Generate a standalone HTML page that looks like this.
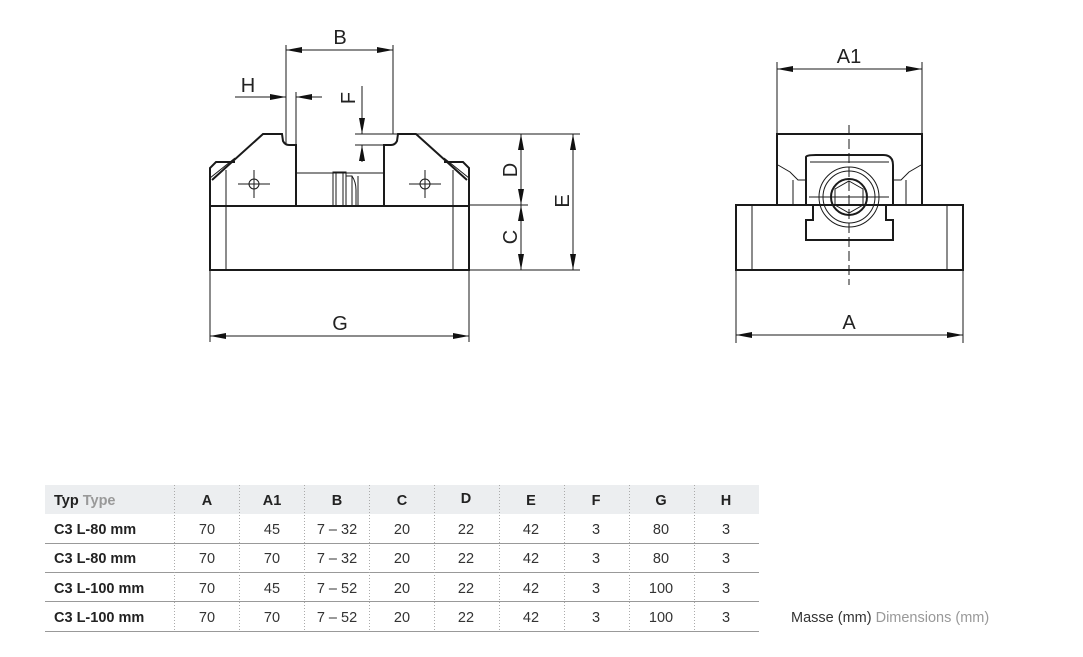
<!DOCTYPE html>
<html><head><meta charset="utf-8"><style>
html,body{margin:0;padding:0;background:#fff;}
body{width:1083px;height:657px;overflow:hidden;}
svg{display:block;}
.l{stroke:#1a1a1a;stroke-width:1;fill:none;}
.t{stroke:#1a1a1a;stroke-width:2;fill:none;}
.d{font-family:"Liberation Sans",sans-serif;font-size:20px;fill:#222;font-weight:300;}
.h{font-family:"Liberation Sans",sans-serif;font-size:14.5px;font-weight:bold;fill:#222;}
.c{font-family:"Liberation Sans",sans-serif;font-size:14.5px;fill:#333;}
</style></head><body>
<svg width="1083" height="657" viewBox="0 0 1083 657">
<defs>
<marker id="a" markerWidth="16" markerHeight="8" refX="16" refY="4" orient="auto" markerUnits="userSpaceOnUse"><path d="M0,1 L16,4 L0,7 Z" fill="#111"/></marker>
</defs>
<g>
<rect x="210" y="206" width="259" height="64" class="t"/>
<line x1="226" y1="206" x2="226" y2="270" class="l"/>
<line x1="453" y1="206" x2="453" y2="270" class="l"/>
<path d="M210,206 L210,168 L216,162 L235,162" class="t"/>
<path d="M469,206 L469,168 L463,162 L444,162" class="t"/>
<line x1="226" y1="206" x2="226" y2="170" class="l"/>
<line x1="453" y1="206" x2="453" y2="170" class="l"/>
<line x1="210" y1="178" x2="235" y2="158" class="l"/>
<line x1="469" y1="178" x2="444" y2="158" class="l"/>
<path d="M212,180 L263,134 L282,134 L283,141 Q285,145 289,145 L296,145 L296,206" class="t"/>
<path d="M467,180 L416,134 L398,134 L397,141 Q395,145 391,145 L384,145 L384,206" class="t"/>
<line x1="296" y1="173" x2="384" y2="173" class="l"/>
<rect x="333" y="172" width="13" height="34" class="l"/>
<line x1="336" y1="172" x2="336" y2="206" class="l"/>
<line x1="343" y1="172" x2="343" y2="206" class="l"/>
<path d="M346,176 L352,176 Q356,182 356,190 L356,206 M352,176 L352,206 M358,176 L358,206" class="l"/>
<circle cx="254" cy="184" r="5" class="l"/>
<line x1="238" y1="184" x2="270" y2="184" class="l"/><line x1="254" y1="170" x2="254" y2="198" class="l"/>
<circle cx="425" cy="184" r="5" class="l"/>
<line x1="409" y1="184" x2="441" y2="184" class="l"/><line x1="425" y1="170" x2="425" y2="198" class="l"/>
<line x1="286" y1="45" x2="286" y2="145" class="l"/>
<line x1="393" y1="45" x2="393" y2="134" class="l"/>
<line x1="300" y1="50" x2="286" y2="50" class="l" marker-end="url(#a)"/>
<line x1="300" y1="50" x2="393" y2="50" class="l" marker-end="url(#a)"/>
<text x="340" y="44" class="d" text-anchor="middle">B</text>
<line x1="296" y1="92" x2="296" y2="145" class="l"/>
<line x1="235" y1="97" x2="286" y2="97" class="l" marker-end="url(#a)"/>
<line x1="322" y1="97" x2="296" y2="97" class="l" marker-end="url(#a)"/>
<text x="248" y="92" class="d" text-anchor="middle">H</text>
<line x1="362" y1="86" x2="362" y2="134" class="l" marker-end="url(#a)"/>
<line x1="362" y1="162" x2="362" y2="145" class="l" marker-end="url(#a)"/>
<line x1="355" y1="145" x2="392" y2="145" class="l"/>
<line x1="355" y1="134" x2="580" y2="134" class="l"/>
<text transform="translate(355,98) rotate(-90)" class="d" text-anchor="middle">F</text>
<line x1="469" y1="205" x2="528" y2="205" class="l"/>
<line x1="469" y1="270" x2="580" y2="270" class="l"/>
<line x1="521" y1="170" x2="521" y2="134" class="l" marker-end="url(#a)"/>
<line x1="521" y1="170" x2="521" y2="205" class="l" marker-end="url(#a)"/>
<line x1="521" y1="237" x2="521" y2="205" class="l" marker-end="url(#a)"/>
<line x1="521" y1="237" x2="521" y2="270" class="l" marker-end="url(#a)"/>
<line x1="573" y1="200" x2="573" y2="134" class="l" marker-end="url(#a)"/>
<line x1="573" y1="200" x2="573" y2="270" class="l" marker-end="url(#a)"/>
<text transform="translate(517,170) rotate(-90)" class="d" text-anchor="middle">D</text>
<text transform="translate(517,237) rotate(-90)" class="d" text-anchor="middle">C</text>
<text transform="translate(569,201) rotate(-90)" class="d" text-anchor="middle">E</text>
<line x1="210" y1="270" x2="210" y2="342" class="l"/>
<line x1="469" y1="270" x2="469" y2="342" class="l"/>
<line x1="340" y1="336" x2="210" y2="336" class="l" marker-end="url(#a)"/>
<line x1="340" y1="336" x2="469" y2="336" class="l" marker-end="url(#a)"/>
<text x="340" y="330" class="d" text-anchor="middle">G</text>
</g>
<g>
<rect x="736" y="205" width="227" height="65" class="t"/>
<line x1="752" y1="205" x2="752" y2="270" class="l"/>
<line x1="947" y1="205" x2="947" y2="270" class="l"/>
<path d="M777,205 L777,134 L922,134 L922,205" class="t"/>
<path d="M778,165 L790,172 L798,180 L806,180 M921,165 L909,172 L901,180 L893,180" class="l"/>
<line x1="793" y1="180" x2="793" y2="205" class="l"/>
<line x1="906" y1="180" x2="906" y2="205" class="l"/>
<path d="M806,205 L806,157 Q806,155 816,155 L883,155 Q893,155 893,165 L893,205 L886,205 L886,220 L893,220 L893,240 L806,240 L806,220 L813,220 L813,205 Z" class="t"/>
<line x1="810" y1="162" x2="889" y2="162" class="l"/>
<circle cx="849" cy="197" r="30" class="l"/>
<circle cx="849" cy="197" r="26" class="l"/>
<circle cx="849" cy="197" r="18" class="t"/>
<path d="M849,181 L863,189 L863,205 L849,213 L835,205 L835,189 Z" class="l"/>
<line x1="809" y1="197" x2="889" y2="197" class="l"/>
<line x1="849" y1="125" x2="849" y2="285" class="l" stroke-dasharray="10,4"/>
<line x1="777" y1="62" x2="777" y2="134" class="l"/>
<line x1="922" y1="62" x2="922" y2="134" class="l"/>
<line x1="849" y1="69" x2="777" y2="69" class="l" marker-end="url(#a)"/>
<line x1="849" y1="69" x2="922" y2="69" class="l" marker-end="url(#a)"/>
<text x="849" y="63" class="d" text-anchor="middle">A1</text>
<line x1="736" y1="270" x2="736" y2="343" class="l"/>
<line x1="963" y1="270" x2="963" y2="343" class="l"/>
<line x1="849" y1="335" x2="736" y2="335" class="l" marker-end="url(#a)"/>
<line x1="849" y1="335" x2="963" y2="335" class="l" marker-end="url(#a)"/>
<text x="849" y="329" class="d" text-anchor="middle">A</text>
</g>
<rect x="45" y="485" width="714" height="29" fill="#eceef0"/>
<g stroke="#999" stroke-width="1">
<line x1="45" y1="543.5" x2="759" y2="543.5"/>
<line x1="45" y1="572.5" x2="759" y2="572.5"/>
<line x1="45" y1="601.5" x2="759" y2="601.5"/>
<line x1="45" y1="631.5" x2="759" y2="631.5"/>
</g>
<g stroke="#aaa" stroke-width="1" stroke-dasharray="1,2">
<line x1="174.5" y1="485" x2="174.5" y2="631"/><line x1="239.5" y1="485" x2="239.5" y2="631"/>
<line x1="304.5" y1="485" x2="304.5" y2="631"/><line x1="369.5" y1="485" x2="369.5" y2="631"/>
<line x1="434.5" y1="485" x2="434.5" y2="631"/><line x1="499.5" y1="485" x2="499.5" y2="631"/>
<line x1="564.5" y1="485" x2="564.5" y2="631"/><line x1="629.5" y1="485" x2="629.5" y2="631"/>
<line x1="694.5" y1="485" x2="694.5" y2="631"/>
</g>
<text x="54" y="505" class="h">Typ <tspan fill="#999">Type</tspan></text>
<g class="h" text-anchor="middle">
<text x="207" y="505">A</text><text x="272" y="505">A1</text><text x="337" y="505">B</text><text x="402" y="505">C</text><text x="466" y="503">D</text><text x="531" y="505">E</text><text x="596" y="505">F</text><text x="661" y="505">G</text><text x="726" y="505">H</text>
</g>
<text x="54" y="534" class="h">C3 L-80 mm</text>
<text x="54" y="563" class="h">C3 L-80 mm</text>
<text x="54" y="593" class="h">C3 L-100 mm</text>
<text x="54" y="622" class="h">C3 L-100 mm</text>
<g class="c" text-anchor="middle">
<text x="207" y="534">70</text><text x="272" y="534">45</text><text x="337" y="534">7 – 32</text><text x="402" y="534">20</text><text x="466" y="534">22</text><text x="531" y="534">42</text><text x="596" y="534">3</text><text x="661" y="534">80</text><text x="726" y="534">3</text>
<text x="207" y="563">70</text><text x="272" y="563">70</text><text x="337" y="563">7 – 32</text><text x="402" y="563">20</text><text x="466" y="563">22</text><text x="531" y="563">42</text><text x="596" y="563">3</text><text x="661" y="563">80</text><text x="726" y="563">3</text>
<text x="207" y="593">70</text><text x="272" y="593">45</text><text x="337" y="593">7 – 52</text><text x="402" y="593">20</text><text x="466" y="593">22</text><text x="531" y="593">42</text><text x="596" y="593">3</text><text x="661" y="593">100</text><text x="726" y="593">3</text>
<text x="207" y="622">70</text><text x="272" y="622">70</text><text x="337" y="622">7 – 52</text><text x="402" y="622">20</text><text x="466" y="622">22</text><text x="531" y="622">42</text><text x="596" y="622">3</text><text x="661" y="622">100</text><text x="726" y="622">3</text>
</g>
<text x="791" y="622" class="c">Masse (mm) <tspan fill="#999">Dimensions (mm)</tspan></text>
</svg>
</body></html>
